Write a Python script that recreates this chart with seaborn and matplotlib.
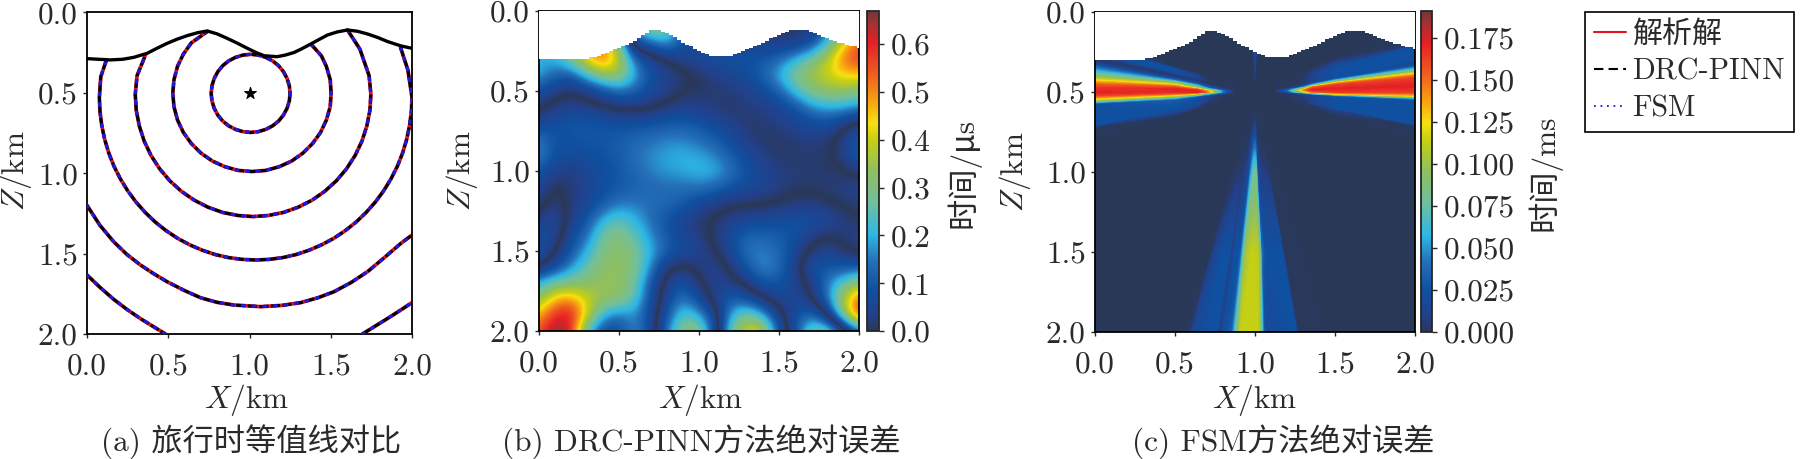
import numpy as np
import matplotlib
matplotlib.use("Agg")
import matplotlib.pyplot as plt
from matplotlib.colors import LinearSegmentedColormap, Normalize
from matplotlib.cm import ScalarMappable
from matplotlib.lines import Line2D
import seaborn as sns

# ---------- panel (a): contours ----------
surface_x = [0, .07, .144, .22, .288, .37, .43, .493, .555, .617, .68, .74, .80, .863, .925, .987, 1.04, 1.09, 1.17, 1.22, 1.274, 1.325, 1.377, 1.43, 1.48, 1.54, 1.603, 1.665, 1.727, 1.79, 1.85, 1.932, 2.0]
surface_z = [.288, .292, .296, .292, .28, .255, .224, .193, .167, .145, .127, .116, .134, .162, .192, .224, .25, .27, .276, .266, .25, .225, .197, .168, .141, .122, .11, .118, .135, .157, .182, .209, .224]

contours = [
    [(1.25, .504), (1.245, .551), (1.231, .597), (1.209, .639), (1.179, .676), (1.142, .706), (1.10, .728), (1.054, .742), (1.007, .747), (.96, .742), (.914, .728), (.872, .706), (.835, .676), (.805, .639), (.783, .597), (.769, .551), (.764, .504), (.769, .457), (.783, .411), (.805, .369), (.835, .332), (.872, .302), (.914, .28), (.96, .266), (1.007, .261), (1.054, .266), (1.10, .28), (1.142, .302), (1.179, .332), (1.209, .369), (1.231, .411), (1.245, .457), (1.25, .504)],
    [(1.38, .2), (1.442, .27), (1.473, .336), (1.497, .42), (1.502, .503), (1.497, .586), (1.473, .670), (1.437, .747), (1.388, .816), (1.328, .876), (1.259, .925), (1.183, .96), (1.100, .983), (1.015, .99), (.930, .983), (.848, .96), (.772, .925), (.702, .876), (.642, .816), (.593, .747), (.557, .670), (.535, .586), (.528, .503), (.535, .42), (.557, .336), (.593, .26), (.642, .190), (.74, .12)],
    [(1.603, .11), (1.679, .228), (1.736, .394), (1.747, .51), (1.741, .609), (1.722, .707), (1.692, .801), (1.650, .89), (1.597, .973), (1.535, 1.047), (1.463, 1.113), (1.385, 1.168), (1.299, 1.212), (1.210, 1.244), (1.117, 1.263), (1.022, 1.27), (.927, 1.263), (.834, 1.244), (.745, 1.212), (.660, 1.168), (.581, 1.113), (.509, 1.047), (.447, .973), (.394, .89), (.352, .801), (.322, .707), (.303, .609), (.297, .51), (.308, .394), (.36, .265)],
    [(1.93, .22), (1.975, .36), (2.0, .53), (1.996, .618), (1.985, .705), (1.967, .791), (1.942, .875), (1.910, .957), (1.871, 1.035), (1.826, 1.109), (1.775, 1.179), (1.718, 1.244), (1.656, 1.304), (1.590, 1.357), (1.519, 1.405), (1.445, 1.445), (1.367, 1.479), (1.287, 1.506), (1.205, 1.525), (1.122, 1.536), (1.038, 1.54), (.954, 1.536), (.871, 1.525), (.789, 1.506), (.709, 1.479), (.631, 1.445), (.557, 1.405), (.486, 1.357), (.420, 1.304), (.358, 1.244), (.301, 1.179), (.25, 1.109), (.205, 1.035), (.166, .957), (.134, .875), (.109, .791), (.091, .705), (.08, .618), (.076, .53), (.085, .40), (.12, .296)],
    [(0, 1.2), (.08, 1.325), (.164, 1.426), (.245, 1.505), (.329, 1.571), (.41, 1.625), (.493, 1.675), (.6, 1.73), (.7, 1.775), (.8, 1.803), (.904, 1.82), (1.07, 1.83), (1.2, 1.822), (1.315, 1.805), (1.42, 1.775), (1.52, 1.737), (1.625, 1.68), (1.727, 1.612), (1.83, 1.525), (1.932, 1.436), (2.0, 1.385)],
    [(0, 1.633), (.08, 1.71), (.165, 1.785), (.25, 1.85), (.33, 1.905), (.41, 1.955), (.483, 2.0)],
    [(1.695, 2.0), (1.775, 1.95), (1.855, 1.9), (1.932, 1.85), (2.0, 1.805)],
]
source_x = [1.0]
source_z = [.5]

# ---------- staircase free surface (panels b, c), x step 0.025 ----------
stair_z = [.30] * 13 + [.29, .29, .28, .27, .26, .25, .24, .23, .22, .21, .20, .19, .17, .15, .14, .12, .12, .12, .13, .14, .15, .16, .18, .20, .21, .22, .24, .25, .26, .27, .28, .28, .28, .28, .28, .28, .27, .26, .25, .24, .23, .22, .21, .20, .19, .17, .16, .15, .14, .13, .12, .12, .12, .12, .12, .13, .14, .15, .16, .17, .18, .19, .20, .20, .21, .22, .22, .23]

# ---------- panel (b): signed error, rows z = 0.0 ... 2.0, columns x = 0.0 ... 2.0 ----------
err_b = [
    [-.2, -.2, -.2, -.2, -.2, -.1, .2, .35, .3, .1, .05, .05, .05, .03, .02, 0, 0, .02, .1, .3, .4],
    [-.2, -.2, -.2, -.2, -.2, -.1, .2, .35, .3, .1, .05, .05, .05, .03, .02, 0, 0, .02, .1, .3, .45],
    [-.2, -.2, -.3, -.45, -.5, -.3, .08, .12, .2, .08, .06, .06, .05, .05, .04, .03, .03, .07, .22, .42, .55],
    [-.2, -.2, -.3, -.45, -.55, -.4, -.12, -.05, 0, .04, .07, .08, .09, .09, .1, .13, .2, .28, .38, .52, .58],
    [-.2, -.12, -.1, -.22, -.33, -.35, -.2, -.08, -.04, -.02, 0, .03, .05, .07, .12, .2, .3, .36, .4, .45, .45],
    [-.08, -.03, 0, -.03, -.08, -.14, -.12, -.07, -.04, 0, .01, .015, .02, .04, .07, .12, .22, .3, .33, .34, .3],
    [-.02, .03, .04, .03, .01, -.01, -.02, -.01, .02, .04, .03, .02, .005, .02, .03, .05, .09, .17, .2, .2, .17],
    [.05, .08, .1, .1, .09, .08, .08, .09, .1, .11, .09, .06, .04, .01, .015, .03, .05, .07, .08, .03, -.03],
    [.15, .09, .09, .1, .1, .11, .13, .14, .16, .16, .14, .11, .07, .03, .01, .01, .02, .03, .02, -.03, -.1],
    [.17, .08, .07, .08, .09, .11, .14, .17, .19, .2, .19, .16, .11, .06, .03, .01, .01, .015, .01, -.03, -.12],
    [.1, .04, .03, .05, .08, .1, .13, .16, .18, .19, .21, .2, .15, .09, .05, .03, .02, .02, .01, .01, -.03],
    [.06, -.01, .02, .05, .08, .1, .12, .13, .14, .14, .15, .13, .09, .07, .05, .03, .012, .012, .02, .03, .05],
    [.03, -.03, .02, .05, .1, .15, .15, .14, .13, .11, .06, .035, .012, .01, .008, -.002, -.02, -.025, -.008, .01, .025],
    [-.02, -.07, .03, .09, .2, .25, .2, .14, .09, .05, .015, -.005, -.04, -.05, -.06, -.07, -.08, -.08, -.06, -.03, -.005],
    [-.08, -.05, .06, .14, .28, .31, .25, .17, .1, .05, .03, -.02, -.07, -.12, -.12, -.11, -.09, -.04, -.008, -.02, -.04],
    [-.1, -.015, .1, .2, .3, .33, .29, .2, .12, .07, .05, .005, -.06, -.15, -.16, -.13, -.06, .02, .05, .01, -.02],
    [-.01, .07, .17, .26, .33, .34, .3, .17, .005, -.005, .02, .05, -.015, -.1, -.18, -.14, -.03, .08, .1, .09, .1],
    [.2, .28, .3, .32, .34, .34, .28, .1, -.04, -.09, -.01, .05, .03, -.02, -.09, -.1, -.05, .02, .15, .25, .34],
    [.33, .47, .5, .4, .34, .33, .25, .08, -.06, -.16, -.07, .04, .12, .08, .005, -.05, -.06, -.01, .13, .38, .55],
    [.46, .6, .62, .42, .2, .14, .18, .06, -.1, -.25, -.2, -.05, .2, .3, .2, .03, -.08, -.14, -.01, .3, .6],
    [.55, .67, .62, .22, .07, .07, .18, .07, -.15, -.33, -.33, -.08, .28, .42, .42, .08, -.07, -.3, -.3, -.1, .1],
]

# ---------- panel (c): error along rays from the source ----------
left_dist = [.13, .2, .28, .32, .36, .5, 1.05]
left_slope = [-.36, -.31, -.28, -.25, -.22, -.19, -.17, -.14, -.12, -.09, -.07, -.05, -.03, 0, .02, .035, .05, .06, .07, .08, .1, .2, .22, .3]
left_err = [
    [0] * 24,
    [0, 0, 0, 0, 0, 0, 0, 0, .005, .01, .02, .03, .04, .04, .03, .02, .015, .01, .005, 0, 0, 0, 0, 0],
    [0, 0, 0, 0, 0, 0, 0, .01, .02, .03, .05, .08, .115, .13, .08, .06, .04, .03, .02, .015, .01, .005, 0, 0],
    [0, 0, .005, .005, 0, 0, .005, .015, .03, .05, .07, .11, .145, .16, .1, .08, .06, .04, .03, .02, .015, .01, .005, 0],
    [0, 0, .015, .015, .005, .005, .012, .03, .05, .08, .11, .145, .168, .172, .145, .11, .08, .06, .04, .03, .025, .02, .015, 0],
    [0, 0, .025, .025, .005, .005, .015, .05, .09, .125, .15, .163, .172, .168, .155, .13, .11, .09, .07, .05, .03, .025, .025, 0],
    [0, 0, .025, .025, .005, .005, .025, .05, .07, .1, .125, .15, .163, .172, .163, .14, .11, .07, .03, .012, .025, .025, 0, 0],
]
right_dist = [.13, .2, .28, .32, .36, .5, 1.05]
right_slope = [-.42, -.3, -.28, -.2, -.19, -.165, -.15, -.13, -.115, -.1, -.085, -.04, 0, .01, .025, .04, .05, .055, .06, .2, .21, .3]
right_err = [
    [0] * 22,
    [0, 0, 0, 0, 0, 0, 0, 0, .005, .01, .02, .035, .02, .01, .005, 0, 0, 0, 0, 0, 0, 0],
    [0, 0, 0, 0, 0, 0, .005, .01, .02, .03, .06, .12, .08, .05, .03, .02, .01, .005, .005, .005, 0, 0],
    [0, .005, .005, .005, .005, .005, .012, .025, .04, .06, .1, .155, .12, .08, .05, .025, .015, .01, .01, .005, 0, 0],
    [0, .012, .012, .012, .012, .012, .025, .05, .08, .115, .15, .172, .15, .115, .08, .03, .02, .012, .012, .012, .005, 0],
    [0, .025, .025, .025, .025, .025, .05, .09, .125, .15, .163, .172, .163, .15, .125, .05, .03, .025, .025, .025, .012, 0],
    [0, 0, .025, .025, .005, .025, .05, .09, .125, .15, .163, .172, .163, .15, .125, .05, .025, .008, .025, .025, 0, 0],
]
down_dist = [.1, .2, .3, .5, 1.0, 1.55]
down_slope = [-.3, -.275, -.26, -.2, -.16, -.15, -.14, -.125, -.1, -.09, -.08, -.07, -.06, -.02, .01, .02, .03, .04, .06, .17, .18, .3]
down_err = [
    [0] * 22,
    [0, 0, 0, 0, 0, 0, 0, 0, 0, 0, .002, .003, .004, .008, .008, .005, .003, .001, 0, 0, 0, 0],
    [0, 0, 0, 0, 0, 0, 0, .002, .005, .007, .01, .012, .015, .03, .03, .02, .01, .005, .002, 0, 0, 0],
    [0, 0, 0, .005, .005, .005, .005, .01, .01, .015, .02, .025, .04, .075, .08, .06, .03, .015, .01, .005, 0, 0],
    [0, 0, .01, .025, .025, .01, .012, .025, .025, .03, .05, .08, .1, .113, .112, .108, .09, .04, .025, .025, 0, 0],
    [0, 0, .015, .025, .025, .005, .012, .025, .03, .05, .08, .1, .113, .115, .113, .1, .06, .02, .018, .025, 0, 0],
]
up_dist = [.05, .1, .18, .26]
up_slope = [-.1, -.04, 0, .04, .1]
up_err = [
    [0, 0, 0, 0, 0],
    [0, 0, .006, 0, 0],
    [0, 0, .014, 0, 0],
    [0, .004, .018, .004, 0],
]

# ---------- text / scales ----------
axis_ticks = [0.0, 0.5, 1.0, 1.5, 2.0]
axis_ticklabels = ["0.0", "0.5", "1.0", "1.5", "2.0"]
cb_b_ticks = [0.0, 0.1, 0.2, 0.3, 0.4, 0.5, 0.6]
cb_b_labels = ["0.0", "0.1", "0.2", "0.3", "0.4", "0.5", "0.6"]
cb_b_max = .669
cb_c_ticks = [0.0, .025, .05, .075, .1, .125, .15, .175]
cb_c_labels = ["0.000", "0.025", "0.050", "0.075", "0.100", "0.125", "0.150", "0.175"]
cb_c_max = .191
captions = ["(a) 旅行时等值线对比", "(b) DRC-PINN方法绝对误差", "(c) FSM方法绝对误差"]
legend_labels = ["解析解", "DRC-PINN", "FSM"]

# colour ramp
ramp_pos = [0, .05, .13, .22, .30, .40, .50, .60, .65, .72, .80, .90, .96, 1]
ramp_col = ["#2a3858", "#23408a", "#0f50a0", "#2570b8", "#2db7e6", "#6fbfa0", "#8fbf60", "#c8d010", "#f8e010", "#f8a010", "#f06020", "#e52025", "#a83030", "#703838"]

sns.set_theme(style="ticks")
FAM = ["cmr10", "Noto Sans CJK SC", "DejaVu Sans"]
plt.rcParams["font.family"] = FAM
plt.rcParams["mathtext.fontset"] = "cm"
plt.rcParams["axes.linewidth"] = 1.3
plt.rcParams["axes.unicode_minus"] = False
TXT = "#2a2a2a"
FS = 22.5

cmap = LinearSegmentedColormap.from_list("err", list(zip(ramp_pos, ramp_col)), N=512)
mirror_pos = [(1 - p) / 2 for p in ramp_pos[::-1]] + [(1 + p) / 2 for p in ramp_pos[1:]]
mirror_col = ramp_col[::-1] + ramp_col[1:]
cmap_signed = LinearSegmentedColormap.from_list("err2", list(zip(mirror_pos, mirror_col)), N=1024)

W, H = 1800, 459
fig = plt.figure(figsize=(W / 100, H / 100), dpi=100, facecolor="white")


def add_px(x0, y0, x1, y1):
    return fig.add_axes([x0 / W, 1 - y1 / H, (x1 - x0) / W, (y1 - y0) / H])


def style(ax, box, xlab_px, ylab_px):
    ax.set_xlim(0, 2)
    ax.set_ylim(2, 0)
    ax.set_aspect("auto")
    ax.set_xticks(axis_ticks, axis_ticklabels)
    ax.set_yticks(axis_ticks, axis_ticklabels)
    ax.tick_params(axis="x", length=2.6, width=1, pad=11, labelsize=FS, labelcolor=TXT)
    ax.tick_params(axis="y", length=2.6, width=1, pad=4, labelsize=FS, labelcolor=TXT)
    ax.set_xlabel("$X$/km", fontsize=FS, color=TXT, va="center", ha="center")
    ax.set_ylabel("$Z$/km", fontsize=FS, color=TXT, va="center", ha="center")
    x0, y0, x1, y1 = box
    ax.xaxis.set_label_coords((xlab_px[0] - x0) / (x1 - x0), (y1 - xlab_px[1]) / (y1 - y0))
    ax.yaxis.set_label_coords((ylab_px[0] - x0) / (x1 - x0), (y1 - ylab_px[1]) / (y1 - y0))
    for s in ax.spines.values():
        s.set_visible(True)
        s.set_linewidth(1.3)
        s.set_color("black")


def add_cbar(box, vmax, ticks, labels, title, title_px):
    cax = add_px(*box)
    cb = fig.colorbar(ScalarMappable(Normalize(0, vmax), cmap), cax=cax)
    cb.set_ticks(ticks, labels=labels)
    cax.tick_params(length=3.6, width=1, pad=5, labelsize=FS, labelcolor=TXT)
    cb.outline.set_linewidth(1.3)
    cb.set_label(title, fontsize=FS, color=TXT, rotation=90, va="center", ha="center")
    x0, y0, x1, y1 = box
    cax.yaxis.set_label_coords((title_px[0] - x0) / (x1 - x0), (y1 - title_px[1]) / (y1 - y0))


def add_mask(ax):
    sx = np.arange(len(stair_z)) * .025
    ax.fill_between(sx, 0, stair_z, step="mid", color="white", lw=0, zorder=3)


# ---- panel a ----
box_a = (87, 12.3, 412, 334)
ax_a = add_px(*box_a)
ax_a.set_facecolor("white")
for c in contours:
    xs = [p[0] for p in c]
    zs = [p[1] for p in c]
    sns.lineplot(x=xs, y=zs, sort=False, estimator=None, color="#e8141c", lw=2.7, ax=ax_a, zorder=2)
    sns.lineplot(x=xs, y=zs, sort=False, estimator=None, color="black", lw=2.2, linestyle=(0, (3.0, .8)), ax=ax_a, zorder=3)
    sns.lineplot(x=xs, y=zs, sort=False, estimator=None, color="#1a1ae0", lw=2.4, linestyle=(0, (.6, 2.6)), dash_capstyle="round", ax=ax_a, zorder=4)
sns.lineplot(x=surface_x, y=surface_z, sort=False, estimator=None, color="black", lw=2.4, ax=ax_a, zorder=5)
sns.scatterplot(x=source_x, y=source_z, marker="*", s=80, color="black", edgecolor="black", ax=ax_a, zorder=6)
style(ax_a, box_a, (247, 400), (16, 171))

# ---- panel b ----
box_b = (539, 11, 859, 331)
ax_b = add_px(*box_b)
ax_b.imshow(np.array(err_b), cmap=cmap_signed, vmin=-cb_b_max, vmax=cb_b_max,
            extent=(-.05, 2.05, 2.05, -.05), interpolation="bicubic",
            interpolation_stage="data", aspect="auto", zorder=1)
add_mask(ax_b)
style(ax_b, box_b, (701, 400), (462, 171))
add_cbar((867, 11, 879, 331), cb_b_max, cb_b_ticks, cb_b_labels, "时间/μs", (963, 173))

# ---- panel c ----
box_c = (1095, 12, 1415, 332)
ax_c = add_px(*box_c)
ax_c.set_facecolor(ramp_col[0])
levels = np.linspace(0, cb_c_max, 96)
for dist, slope, err, kind in [(left_dist, left_slope, left_err, "left"),
                               (right_dist, right_slope, right_err, "right"),
                               (down_dist, down_slope, down_err, "down"),
                               (up_dist, up_slope, up_err, "up")]:
    dd, ss = np.meshgrid(dist, slope, indexing="ij")
    if kind == "left":
        X, Z = source_x[0] - dd, source_z[0] + ss * dd
    elif kind == "right":
        X, Z = source_x[0] + dd, source_z[0] + ss * dd
    elif kind == "down":
        X, Z = source_x[0] + ss * dd, source_z[0] + dd
    else:
        X, Z = source_x[0] + ss * dd, source_z[0] - dd
    ax_c.contourf(X, Z, np.array(err), levels=levels, cmap=cmap, vmin=0, vmax=cb_c_max, zorder=1)
add_mask(ax_c)
style(ax_c, box_c, (1255, 400), (1015, 172))
add_cbar((1421, 11, 1432, 332), cb_c_max, cb_c_ticks, cb_c_labels, "时间/ms", (1544, 173))

# ---- legend ----
handles = [Line2D([], [], color="#e8141c", lw=1.5),
           Line2D([], [], color="black", lw=1.5, linestyle=(0, (4.5, 2.5))),
           Line2D([], [], color="#1a1ae0", lw=1.3, linestyle=(0, (1, 2.6)))]
leg = fig.legend(handles, legend_labels, loc="upper left", bbox_to_anchor=(1585 / W, 1 - 12 / H),
                 frameon=True, fancybox=False, framealpha=1, edgecolor="black",
                 prop={"family": FAM, "size": 21.6}, handlelength=1.06, handletextpad=.22,
                 labelspacing=.32, borderpad=.3, borderaxespad=0, labelcolor=TXT)
leg.get_frame().set_linewidth(1.2)

# ---- captions ----
for txt, cx in zip(captions, [251, 701, 1283]):
    fig.text(cx / W, 1 - 442 / H, txt, fontsize=FS, color=TXT, ha="center", va="center")

fig.savefig("out.png", dpi=100)
